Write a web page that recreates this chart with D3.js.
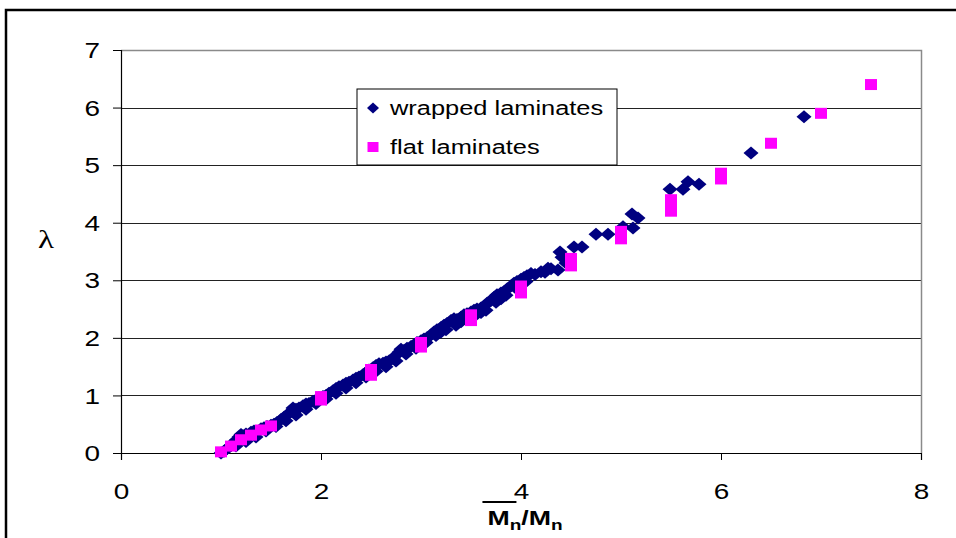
<!DOCTYPE html>
<html>
<head>
<meta charset="utf-8">
<script src="https://cdn.jsdelivr.net/npm/d3@7"></script>
<style>
  html, body { margin: 0; padding: 0; background: #fff; }
  svg { display: block; }
  text { font-family: "Liberation Sans", Arial, sans-serif; fill: #000; }
</style>
</head>
<body>
<svg id="chart" width="956" height="538"></svg>
<script>
// Tick values on each axis
const xTicks = [0, 2, 4, 6, 8];
const yTicks = [0, 1, 2, 3, 4, 5, 6, 7];

// Wrapped laminates: [Mn ratio, lambda]
const wrapped = [
  [1.00,0.00],[1.03,0.03],[1.05,0.06],[1.08,0.10],[1.10,0.13],[1.12,0.17],[1.15,0.22],[1.18,0.28],
  [1.20,0.32],[1.22,0.30],[1.25,0.33],[1.28,0.30],[1.30,0.36],[1.33,0.38],[1.36,0.37],[1.40,0.42],
  [1.43,0.44],[1.46,0.46],[1.50,0.48],[1.53,0.50],[1.56,0.53],[1.60,0.58],[1.63,0.62],[1.66,0.66],
  [1.70,0.72],[1.72,0.78],[1.75,0.76],[1.78,0.78],[1.82,0.82],[1.85,0.85],[1.88,0.86],[1.92,0.90],
  [1.95,0.92],[1.98,0.96],[2.02,0.98],[2.05,1.00],[2.08,1.04],[2.12,1.08],[2.15,1.12],[2.18,1.15],
  [2.22,1.18],[2.25,1.21],[2.28,1.23],[2.32,1.27],[2.35,1.30],[2.38,1.32],[2.42,1.36],[2.45,1.40],
  [2.48,1.44],[2.52,1.48],[2.55,1.52],[2.58,1.55],[2.62,1.56],[2.65,1.58],[2.68,1.60],[2.72,1.64],
  [2.75,1.70],[2.78,1.75],[2.80,1.80],[2.83,1.78],[2.86,1.82],[2.90,1.85],[2.93,1.88],[2.96,1.92],
  [3.00,1.95],[3.03,1.98],[3.06,2.00],[3.10,2.05],[3.13,2.10],[3.16,2.14],[3.20,2.18],[3.23,2.22],
  [3.26,2.25],[3.30,2.30],[3.33,2.33],[3.36,2.32],[3.40,2.36],[3.43,2.40],[3.46,2.42],[3.50,2.45],
  [3.53,2.48],[3.56,2.50],[3.60,2.52],[3.63,2.55],[3.66,2.60],[3.70,2.65],[3.73,2.70],[3.76,2.75],
  [3.80,2.78],[3.83,2.80],[3.86,2.85],[3.90,2.90],[3.93,2.95],[3.96,2.98],[4.00,3.02],[4.03,3.05],
  [4.06,3.08],[4.10,3.12],[4.14,3.10],[4.20,3.15],[4.24,3.14],[4.27,3.21],[4.37,3.18],[4.39,3.49],
  [4.41,3.40],[4.53,3.58],[4.61,3.58],[4.75,3.80],[4.87,3.80],[5.02,3.93],[5.12,3.91],[5.11,4.15],
  [5.17,4.08],[5.49,4.58],[5.62,4.58],[5.67,4.71],[5.78,4.67],[6.30,5.21],[6.83,5.84],
  [1.15,0.12],[1.25,0.20],[1.35,0.28],[1.45,0.38],[1.55,0.46],[1.65,0.56],[1.75,0.66],[1.85,0.76],
  [1.95,0.86],[2.05,0.94],[2.15,1.04],[2.25,1.13],[2.35,1.22],[2.45,1.32],[2.55,1.42],[2.65,1.50],
  [2.75,1.60],[2.85,1.72],[2.95,1.82],[3.05,1.92],[3.15,2.04],[3.25,2.14],[3.35,2.22],[3.45,2.32],
  [3.55,2.40],[3.65,2.48],[3.75,2.62],[3.85,2.74],[3.95,2.86],[4.05,2.98],
  [3.20,2.10],[3.40,2.28],[3.60,2.44],[3.80,2.68],[4.00,2.92],[4.45,3.30],[4.30,3.20]
];

// Flat laminates: [Mn ratio, lambda]
const flat = [
  [1.00,0.02],[1.10,0.12],[1.20,0.23],[1.30,0.31],[1.40,0.40],[1.50,0.47],
  [2.00,0.92],[2.00,0.98],[2.50,1.35],[2.50,1.45],[3.00,1.84],[3.00,1.92],
  [3.50,2.30],[3.50,2.40],[4.00,2.78],[4.00,2.90],[4.50,3.25],[4.50,3.38],
  [5.00,3.72],[5.00,3.85],[5.50,4.20],[5.50,4.30],[5.50,4.40],[6.00,4.76],
  [6.00,4.86],[6.50,5.38],[7.00,5.90],[7.50,6.40]
];

const seriesNames = ["wrapped laminates", "flat laminates"];
const seriesColors = ["#000080", "#ff00ff"];

const svg = d3.select("#chart");
const SX = 1.27;           // horizontal text stretch
const FS = 21;             // base font size

const x = d3.scaleLinear().domain([0, 8]).range([121, 921]);
const y = d3.scaleLinear().domain([0, 7]).range([453, 50]);

// outer frame (left and top edges visible)
svg.append("path")
  .attr("d", "M6,538 V10 H956")
  .attr("fill", "none").attr("stroke", "#000").attr("stroke-width", 2.5);

// horizontal gridlines
svg.append("g").selectAll("line")
  .data(yTicks.filter(v => v > 0 && v < 7))
  .join("line")
  .attr("x1", x(0)).attr("x2", x(8))
  .attr("y1", d => Math.round(y(d)) + 0.5).attr("y2", d => Math.round(y(d)) + 0.5)
  .attr("stroke", "#222").attr("stroke-width", 1);

// plot area border (top and right)
svg.append("path")
  .attr("d", `M${x(0)},${Math.round(y(7)) + 0.5} H${Math.round(x(8)) + 0.5} V${y(0)}`)
  .attr("fill", "none").attr("stroke", "#8a8a8a").attr("stroke-width", 1.5);

// y axis
const gy = svg.append("g")
  .attr("transform", `translate(${x(0)},0)`)
  .call(d3.axisLeft(y).tickValues(yTicks).tickSize(8).tickFormat(""));
gy.select(".domain").attr("stroke", "#000").attr("stroke-width", 1.2);
gy.selectAll(".tick line").attr("stroke", "#000");
gy.selectAll(".tick").append("text")
  .attr("transform", `translate(-21,0) scale(${SX},1)`)
  .attr("text-anchor", "end")
  .attr("dy", "0.35em")
  .attr("font-size", FS + 1)
  .text(d => d);

// x axis
const gx = svg.append("g")
  .attr("transform", `translate(0,${y(0)})`)
  .call(d3.axisBottom(x).tickValues(xTicks).tickSize(7).tickFormat(""));
gx.select(".domain").attr("stroke", "#000").attr("stroke-width", 1.2);
gx.selectAll(".tick line").attr("stroke", "#000");
gx.selectAll(".tick").append("text")
  .attr("transform", `translate(0,46) scale(${SX},1)`)
  .attr("text-anchor", "middle")
  .attr("font-size", FS + 1)
  .text(d => d);

// y axis title
svg.append("text")
  .attr("transform", `translate(46,248) scale(${SX},1)`)
  .attr("text-anchor", "middle")
  .attr("font-size", 26)
  .style("font-family", "'Liberation Serif', 'Times New Roman', serif")
  .text("λ");

// x axis title: Mn/Mn with overline on the first M
const title = svg.append("text")
  .attr("transform", `translate(525,525) scale(${SX},1)`)
  .attr("text-anchor", "middle")
  .attr("font-size", FS)
  .attr("font-weight", "bold");
title.append("tspan").attr("class", "m1").text("M");
title.append("tspan").attr("font-size", 15).attr("dy", 5).text("n");
title.append("tspan").attr("dy", -5).text("/M");
title.append("tspan").attr("font-size", 15).attr("dy", 5).text("n");
const m1 = title.select(".m1").node().getBoundingClientRect();
svg.append("line")
  .attr("x1", m1.left - 5).attr("x2", m1.left + 29)
  .attr("y1", 502).attr("y2", 502)
  .attr("stroke", "#000").attr("stroke-width", 1.8);

// marker shapes
const diamond = "M0,-6.5L7.5,0L0,6.5L-7.5,0Z";
const square = "M-6,-5.5H6V5.5H-6Z";

// wrapped laminates
svg.append("g").selectAll("path")
  .data(wrapped)
  .join("path")
  .attr("d", diamond)
  .attr("transform", d => `translate(${x(d[0])},${y(d[1])})`)
  .attr("fill", seriesColors[0]);

// flat laminates
svg.append("g").selectAll("path")
  .data(flat)
  .join("path")
  .attr("d", square)
  .attr("transform", d => `translate(${x(d[0])},${y(d[1])})`)
  .attr("fill", seriesColors[1]);

// legend
const lg = svg.append("g").attr("transform", "translate(357,89)");
lg.append("rect")
  .attr("width", 260).attr("height", 76)
  .attr("fill", "#fff").attr("stroke", "#000").attr("stroke-width", 1);
const items = lg.selectAll("g.item")
  .data(seriesNames)
  .join("g").attr("class", "item")
  .attr("transform", (d, i) => `translate(0,${19 + i * 39})`);
items.append("path")
  .attr("d", (d, i) => i === 0 ? "M0,-5.5L6,0L0,5.5L-6,0Z" : "M-5.5,-5H5.5V5H-5.5Z")
  .attr("transform", "translate(16,0)")
  .attr("fill", (d, i) => seriesColors[i]);
items.append("text")
  .attr("transform", `translate(33,0) scale(${SX},1)`)
  .attr("dy", "0.35em")
  .attr("font-size", FS - 1)
  .text(d => d);
</script>
</body>
</html>
